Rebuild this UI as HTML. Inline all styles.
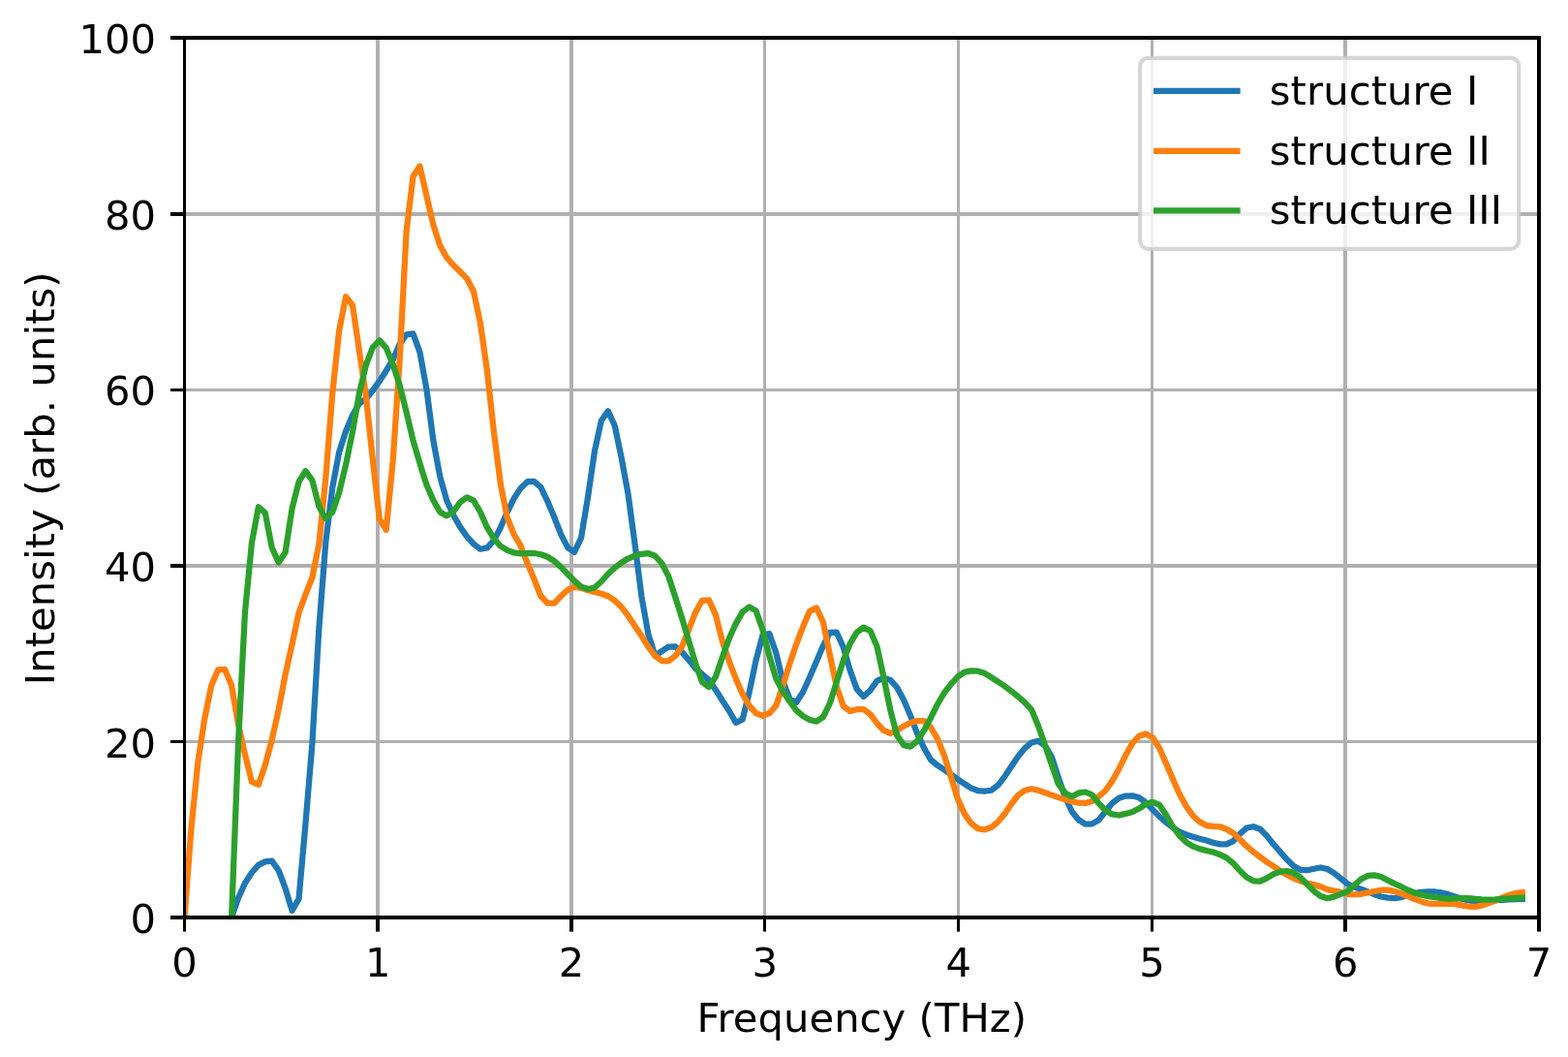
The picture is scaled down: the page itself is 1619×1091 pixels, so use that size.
<!DOCTYPE html>
<html lang="en"><head><meta charset="utf-8"><title>Intensity vs Frequency</title>
<style>html,body{margin:0;padding:0;background:#fff;overflow:hidden}svg{display:block}text{font-family:"DejaVu Sans","Liberation Sans",sans-serif;font-size:41.667px;fill:#000}</style></head><body>
<svg width="1619" height="1091" viewBox="0 0 1619 1091">
<rect x="0" y="0" width="1619" height="1091" fill="#ffffff"/>
<defs><clipPath id="axclip"><rect x="190.50" y="39.00" width="1398.50" height="908.00"/></clipPath></defs>
<g fill="#b0b0b0" clip-path="url(#axclip)">
<rect x="388.0" y="39.0" width="4.0" height="908.0"/>
<rect x="588.0" y="39.0" width="4.0" height="908.0"/>
<rect x="788.0" y="39.0" width="3.0" height="908.0"/>
<rect x="988.0" y="39.0" width="3.0" height="908.0"/>
<rect x="1188.0" y="39.0" width="3.0" height="908.0"/>
<rect x="1387.0" y="39.0" width="4.0" height="908.0"/>
<rect x="190.5" y="764.0" width="1398.5" height="3.0"/>
<rect x="190.5" y="582.0" width="1398.5" height="4.0"/>
<rect x="190.5" y="401.0" width="1398.5" height="3.0"/>
<rect x="190.5" y="219.0" width="1398.5" height="4.0"/>
</g>
<g fill="#000000">
<rect x="189.0" y="947.0" width="3.0" height="14.6"/>
<rect x="388.0" y="947.0" width="4.0" height="14.6"/>
<rect x="588.0" y="947.0" width="4.0" height="14.6"/>
<rect x="788.0" y="947.0" width="3.0" height="14.6"/>
<rect x="988.0" y="947.0" width="3.0" height="14.6"/>
<rect x="1188.0" y="947.0" width="3.0" height="14.6"/>
<rect x="1387.0" y="947.0" width="4.0" height="14.6"/>
<rect x="1587.0" y="947.0" width="4.0" height="14.6"/>
<rect x="176.0" y="945.0" width="14.5" height="4.0"/>
<rect x="176.0" y="764.0" width="14.5" height="3.0"/>
<rect x="176.0" y="582.0" width="14.5" height="4.0"/>
<rect x="176.0" y="401.0" width="14.5" height="3.0"/>
<rect x="176.0" y="219.0" width="14.5" height="4.0"/>
<rect x="176.0" y="37.0" width="14.5" height="4.0"/>
</g>
<text x="190.50" y="1007.80" text-anchor="middle">0</text>
<text x="390.29" y="1007.80" text-anchor="middle">1</text>
<text x="590.07" y="1007.80" text-anchor="middle">2</text>
<text x="789.86" y="1007.80" text-anchor="middle">3</text>
<text x="989.64" y="1007.80" text-anchor="middle">4</text>
<text x="1189.43" y="1007.80" text-anchor="middle">5</text>
<text x="1389.21" y="1007.80" text-anchor="middle">6</text>
<text x="1589.00" y="1007.80" text-anchor="middle">7</text>
<text x="160.90" y="963.10" text-anchor="end">0</text>
<text x="160.90" y="781.50" text-anchor="end">20</text>
<text x="160.90" y="599.90" text-anchor="end">40</text>
<text x="160.90" y="418.30" text-anchor="end">60</text>
<text x="160.90" y="236.70" text-anchor="end">80</text>
<text x="160.90" y="55.10" text-anchor="end">100</text>
<text x="719.45" y="1065.20" textLength="340.6" lengthAdjust="spacing">Frequency (THz)</text>
<text transform="translate(55.70 707.20) rotate(-90)" textLength="426.8" lengthAdjust="spacing">Intensity (arb. units)</text>
<g fill="none" stroke-width="6.25" stroke-linejoin="round" stroke-linecap="square" clip-path="url(#axclip)">
<path stroke="#1f77b4" d="M239.09 947.00 L246.03 926.97 L252.97 911.47 L259.91 900.78 L266.86 892.85 L273.80 889.37 L280.74 888.62 L287.68 898.45 L294.62 916.97 L301.56 939.86 L308.50 927.94 L315.45 850.56 L322.39 767.42 L329.33 649.19 L336.27 560.15 L343.21 503.32 L350.15 466.75 L357.09 444.94 L364.04 428.59 L370.98 416.52 L377.92 411.86 L384.86 403.05 L391.80 393.41 L398.74 382.71 L405.68 371.14 L412.63 355.35 L419.57 345.30 L426.51 344.31 L433.45 363.43 L440.39 401.28 L447.33 454.34 L454.27 491.77 L461.21 516.50 L468.16 531.80 L475.10 543.89 L482.04 553.76 L488.98 561.44 L495.92 566.73 L502.86 565.52 L509.80 557.98 L516.75 544.75 L523.69 528.82 L530.63 514.61 L537.57 503.92 L544.51 497.17 L551.45 496.92 L558.39 502.82 L565.34 517.45 L572.28 533.84 L579.22 551.66 L586.16 565.15 L593.10 570.04 L600.04 555.17 L606.98 513.37 L613.93 465.84 L620.87 434.20 L627.81 424.26 L634.75 439.48 L641.69 472.63 L648.63 510.51 L655.57 561.98 L662.52 616.21 L669.46 654.98 L676.40 676.92 L683.34 672.21 L690.28 667.63 L697.22 667.43 L704.16 673.13 L711.11 681.13 L718.05 689.81 L724.99 695.87 L731.93 701.78 L738.87 711.92 L745.81 722.98 L752.75 733.51 L759.70 745.81 L766.64 742.65 L773.58 714.79 L780.52 681.60 L787.46 655.61 L794.40 654.17 L801.34 674.01 L808.29 702.83 L815.23 721.21 L822.17 725.01 L829.11 714.25 L836.05 699.07 L842.99 682.76 L849.93 666.55 L856.88 652.79 L863.82 652.70 L870.76 668.09 L877.70 691.84 L884.64 711.10 L891.58 718.97 L898.52 712.63 L905.46 702.94 L912.41 699.69 L919.35 701.86 L926.29 709.81 L933.23 722.83 L940.17 739.01 L947.11 757.15 L954.05 772.05 L961.00 784.23 L967.94 789.99 L974.88 794.49 L981.82 799.39 L988.76 804.27 L995.70 809.03 L1002.64 813.30 L1009.59 816.03 L1016.53 816.58 L1023.47 815.74 L1030.41 810.57 L1037.35 801.64 L1044.29 790.96 L1051.23 780.74 L1058.18 772.33 L1065.12 766.46 L1072.06 764.80 L1079.00 769.72 L1085.94 781.35 L1092.88 802.64 L1099.82 822.78 L1106.77 837.72 L1113.71 846.24 L1120.65 850.56 L1127.59 850.36 L1134.53 846.38 L1141.47 837.55 L1148.41 828.98 L1155.36 823.76 L1162.30 821.57 L1169.24 821.27 L1176.18 823.34 L1183.12 828.30 L1190.06 835.66 L1197.00 842.60 L1203.95 848.71 L1210.89 854.00 L1217.83 858.57 L1224.77 861.44 L1231.71 863.79 L1238.65 865.65 L1245.59 867.56 L1252.54 869.78 L1259.48 871.35 L1266.42 871.37 L1273.36 868.08 L1280.30 860.60 L1287.24 854.54 L1294.18 853.21 L1301.13 855.79 L1308.07 862.84 L1315.01 871.52 L1321.95 879.39 L1328.89 887.33 L1335.83 894.08 L1342.77 897.79 L1349.71 898.24 L1356.66 896.71 L1363.60 895.46 L1370.54 897.06 L1377.48 901.08 L1384.42 906.82 L1391.36 912.24 L1398.30 915.56 L1405.25 917.72 L1412.19 920.31 L1419.13 923.16 L1426.07 925.46 L1433.01 926.61 L1439.95 927.16 L1446.89 926.10 L1453.84 923.87 L1460.78 921.94 L1467.72 920.75 L1474.66 920.36 L1481.60 920.49 L1488.54 921.46 L1495.48 923.14 L1502.43 925.40 L1509.37 927.81 L1516.31 929.46 L1523.25 930.10 L1530.19 930.46 L1537.13 930.01 L1544.07 929.25 L1551.02 928.82 L1557.96 928.42 L1564.90 928.14 L1571.84 927.94"/>
<path stroke="#ff7f0e" d="M190.50 947.00 L197.44 855.07 L204.38 786.73 L211.32 741.54 L218.27 707.42 L225.21 691.27 L232.15 690.91 L239.09 707.54 L246.03 747.65 L252.97 778.49 L259.91 806.89 L266.86 809.91 L273.80 789.42 L280.74 763.72 L287.68 732.37 L294.62 696.16 L301.56 665.30 L308.50 632.68 L315.45 613.73 L322.39 596.08 L329.33 561.61 L336.27 493.79 L343.21 406.51 L350.15 341.40 L357.09 306.22 L364.04 315.24 L370.98 362.10 L377.92 408.90 L384.86 474.50 L391.80 535.52 L398.74 546.88 L405.68 475.81 L412.63 372.56 L419.57 239.53 L426.51 182.01 L433.45 171.59 L440.39 201.75 L447.33 231.87 L454.27 253.40 L461.21 265.71 L468.16 273.79 L475.10 280.60 L482.04 287.42 L488.98 300.70 L495.92 333.29 L502.86 382.04 L509.80 444.57 L516.75 499.12 L523.69 534.17 L530.63 551.52 L537.57 563.43 L544.51 581.16 L551.45 597.52 L558.39 615.24 L565.34 622.47 L572.28 622.72 L579.22 615.27 L586.16 608.82 L593.10 605.98 L600.04 606.82 L606.98 609.17 L613.93 610.96 L620.87 612.73 L627.81 615.27 L634.75 619.90 L641.69 626.57 L648.63 635.66 L655.57 646.18 L662.52 656.60 L669.46 667.95 L676.40 676.96 L683.34 682.09 L690.28 682.29 L697.22 677.11 L704.16 667.38 L711.11 649.93 L718.05 632.24 L724.99 619.77 L731.93 619.30 L738.87 634.41 L745.81 661.82 L752.75 682.13 L759.70 700.52 L766.64 716.16 L773.58 728.35 L780.52 736.16 L787.46 738.95 L794.40 736.19 L801.34 728.18 L808.29 707.66 L815.23 685.40 L822.17 665.10 L829.11 646.73 L836.05 630.74 L842.99 627.44 L849.93 642.24 L856.88 676.08 L863.82 708.70 L870.76 728.67 L877.70 734.04 L884.64 732.19 L891.58 732.11 L898.52 737.23 L905.46 746.50 L912.41 753.99 L919.35 756.96 L926.29 753.86 L933.23 749.47 L940.17 745.96 L947.11 744.02 L954.05 744.07 L961.00 750.86 L967.94 762.46 L974.88 779.68 L981.82 801.56 L988.76 824.37 L995.70 839.65 L1002.64 849.67 L1009.59 855.28 L1016.53 856.42 L1023.47 854.00 L1030.41 848.34 L1037.35 840.09 L1044.29 829.74 L1051.23 820.75 L1058.18 815.77 L1065.12 814.19 L1072.06 815.82 L1079.00 818.17 L1085.94 820.63 L1092.88 823.12 L1099.82 825.24 L1106.77 827.26 L1113.71 828.57 L1120.65 828.94 L1127.59 826.90 L1134.53 822.20 L1141.47 816.01 L1148.41 806.11 L1155.36 793.74 L1162.30 779.50 L1169.24 767.13 L1176.18 759.70 L1183.12 757.48 L1190.06 761.25 L1197.00 772.09 L1203.95 787.67 L1210.89 803.90 L1217.83 819.55 L1224.77 832.26 L1231.71 841.93 L1238.65 848.30 L1245.59 852.07 L1252.54 852.84 L1259.48 853.30 L1266.42 855.75 L1273.36 860.02 L1280.30 866.55 L1287.24 873.44 L1294.18 879.39 L1301.13 884.57 L1308.07 889.78 L1315.01 894.12 L1321.95 899.00 L1328.89 902.97 L1335.83 906.56 L1342.77 909.45 L1349.71 911.42 L1356.66 913.07 L1363.60 915.22 L1370.54 918.13 L1377.48 919.62 L1384.42 920.94 L1391.36 922.77 L1398.30 923.44 L1405.25 922.79 L1412.19 921.41 L1419.13 920.00 L1426.07 918.74 L1433.01 918.68 L1439.95 920.11 L1446.89 922.34 L1453.84 925.14 L1460.78 928.13 L1467.72 930.67 L1474.66 932.58 L1481.60 933.00 L1488.54 932.94 L1495.48 932.67 L1502.43 933.07 L1509.37 934.41 L1516.31 935.75 L1523.25 935.87 L1530.19 934.53 L1537.13 932.10 L1544.07 929.48 L1551.02 926.69 L1557.96 924.00 L1564.90 922.10 L1571.84 921.05"/>
<path stroke="#2ca02c" d="M239.09 947.00 L246.03 767.08 L252.97 631.94 L259.91 560.68 L266.86 523.26 L273.80 529.43 L280.74 565.26 L287.68 580.57 L294.62 570.03 L301.56 524.89 L308.50 497.45 L315.45 486.21 L322.39 495.75 L329.33 522.69 L336.27 535.31 L343.21 528.62 L350.15 508.46 L357.09 479.64 L364.04 445.74 L370.98 405.88 L377.92 376.61 L384.86 358.73 L391.80 351.36 L398.74 359.09 L405.68 376.03 L412.63 397.38 L419.57 425.34 L426.51 454.59 L433.45 478.19 L440.39 500.34 L447.33 516.21 L454.27 528.53 L461.21 532.45 L468.16 528.20 L475.10 518.47 L482.04 513.35 L488.98 516.66 L495.92 528.52 L502.86 544.20 L509.80 555.60 L516.75 563.69 L523.69 567.84 L530.63 570.45 L537.57 571.32 L544.51 571.14 L551.45 570.96 L558.39 572.28 L565.34 574.76 L572.28 579.15 L579.22 585.40 L586.16 592.48 L593.10 599.66 L600.04 605.66 L606.98 608.07 L613.93 606.49 L620.87 600.25 L627.81 592.53 L634.75 585.94 L641.69 580.74 L648.63 576.53 L655.57 573.56 L662.52 571.83 L669.46 571.21 L676.40 573.73 L683.34 581.50 L690.28 594.93 L697.22 616.21 L704.16 638.06 L711.11 661.30 L718.05 684.50 L724.99 704.08 L731.93 709.16 L738.87 698.76 L745.81 678.55 L752.75 659.33 L759.70 643.83 L766.64 631.67 L773.58 626.37 L780.52 630.34 L787.46 650.00 L794.40 677.20 L801.34 700.50 L808.29 713.50 L815.23 723.73 L822.17 733.11 L829.11 739.13 L836.05 742.94 L842.99 744.68 L849.93 740.07 L856.88 725.89 L863.82 703.89 L870.76 681.84 L877.70 664.42 L884.64 652.70 L891.58 647.64 L898.52 651.09 L905.46 667.02 L912.41 699.03 L919.35 733.20 L926.29 759.34 L933.23 769.08 L940.17 770.57 L947.11 764.97 L954.05 753.94 L961.00 741.13 L967.94 726.99 L974.88 715.27 L981.82 706.24 L988.76 698.63 L995.70 693.92 L1002.64 692.38 L1009.59 692.68 L1016.53 694.79 L1023.47 699.06 L1030.41 703.51 L1037.35 708.22 L1044.29 713.41 L1051.23 718.98 L1058.18 725.05 L1065.12 732.60 L1072.06 749.31 L1079.00 769.11 L1085.94 789.53 L1092.88 809.46 L1099.82 818.49 L1106.77 822.20 L1113.71 818.43 L1120.65 817.50 L1127.59 820.47 L1134.53 829.22 L1141.47 836.57 L1148.41 840.44 L1155.36 841.50 L1162.30 839.91 L1169.24 838.03 L1176.18 834.52 L1183.12 829.98 L1190.06 827.84 L1197.00 830.57 L1203.95 840.93 L1210.89 853.22 L1217.83 862.50 L1224.77 869.31 L1231.71 873.64 L1238.65 876.11 L1245.59 877.97 L1252.54 879.58 L1259.48 881.93 L1266.42 885.40 L1273.36 891.21 L1280.30 898.76 L1287.24 905.45 L1294.18 909.28 L1301.13 909.53 L1308.07 906.44 L1315.01 902.10 L1321.95 899.63 L1328.89 899.01 L1335.83 900.87 L1342.77 905.71 L1349.71 912.86 L1356.66 919.75 L1363.60 925.02 L1370.54 927.23 L1377.48 925.62 L1384.42 922.77 L1391.36 920.05 L1398.30 913.86 L1405.25 907.54 L1412.19 903.91 L1419.13 903.38 L1426.07 904.98 L1433.01 908.66 L1439.95 912.10 L1446.89 915.21 L1453.84 918.68 L1460.78 921.67 L1467.72 923.75 L1474.66 925.17 L1481.60 926.27 L1488.54 927.06 L1495.48 927.60 L1502.43 927.47 L1509.37 927.17 L1516.31 927.03 L1523.25 927.78 L1530.19 928.38 L1537.13 928.52 L1544.07 928.35 L1551.02 927.80 L1557.96 927.31 L1564.90 926.98 L1571.84 926.75"/>
</g>
<g fill="#000000">
<rect x="189" y="37" width="1402" height="4"/>
<rect x="189" y="945" width="1402" height="4"/>
<rect x="189" y="37" width="3" height="912"/>
<rect x="1587" y="37" width="4" height="912"/>
</g>
<rect x="1177.10" y="59.80" width="391.10" height="197.00" rx="8.33" ry="8.33" fill="#ffffff" fill-opacity="0.8" stroke="#cccccc" stroke-opacity="0.8" stroke-width="4.167"/>
<line x1="1194.17" y1="93.90" x2="1277.50" y2="93.90" stroke="#1f77b4" stroke-width="6.25" stroke-linecap="square"/>
<text x="1310.80" y="108.00" textLength="215.4" lengthAdjust="spacing">structure I</text>
<line x1="1194.17" y1="155.90" x2="1277.50" y2="155.90" stroke="#ff7f0e" stroke-width="6.25" stroke-linecap="square"/>
<text x="1310.80" y="170.00" textLength="227.9" lengthAdjust="spacing">structure II</text>
<line x1="1194.17" y1="217.30" x2="1277.50" y2="217.30" stroke="#2ca02c" stroke-width="6.25" stroke-linecap="square"/>
<text x="1310.80" y="231.40" textLength="240.2" lengthAdjust="spacing">structure III</text>
</svg></body></html>
